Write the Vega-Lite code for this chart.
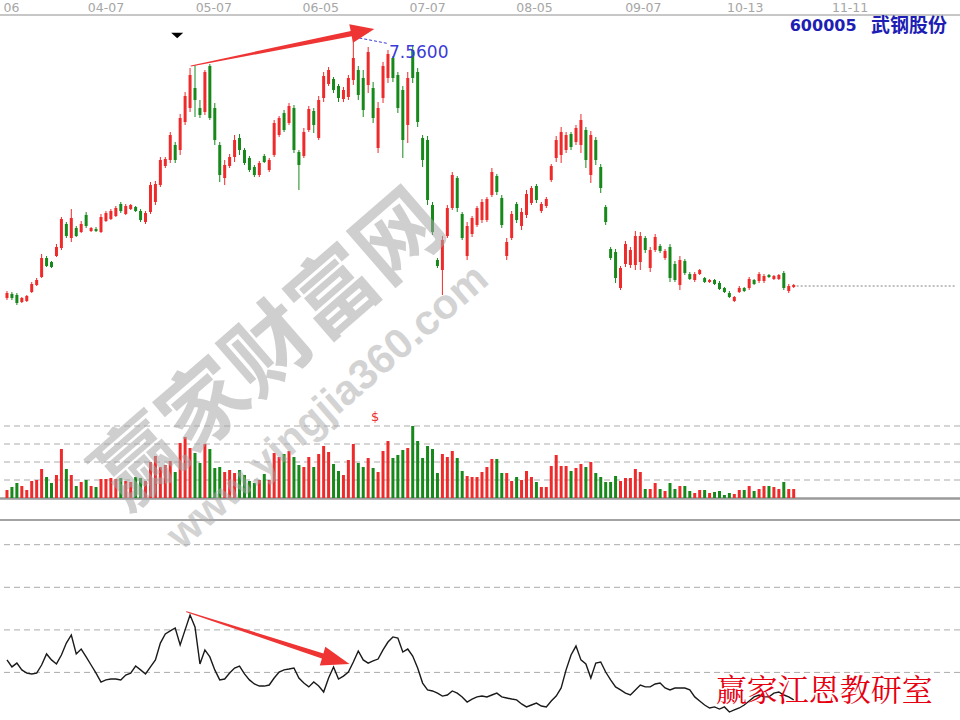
{
"$schema":"https://vega.github.io/schema/vega-lite/v6.json",
"width":960,"height":720,"autosize":{"type":"none"},"padding":0,"background":"white",
"config":{"view":{"stroke":null}},
"datasets":{
"k":[
{"i":0,"o":4.95,"h":5.02,"l":4.93,"c":5.00,"v":8,"m":25.9},
{"i":1,"o":4.99,"h":5.01,"l":4.93,"c":4.95,"v":11,"m":22.6},
{"i":2,"o":4.98,"h":5.00,"l":4.88,"c":4.90,"v":15,"m":24.4},
{"i":3,"o":4.91,"h":4.96,"l":4.90,"c":4.95,"v":12,"m":21.2},
{"i":4,"o":4.92,"h":4.98,"l":4.91,"c":4.97,"v":8,"m":19.7},
{"i":5,"o":5.01,"h":5.11,"l":5.00,"c":5.09,"v":17,"m":19.3},
{"i":6,"o":5.08,"h":5.15,"l":5.07,"c":5.13,"v":18,"m":19.7},
{"i":7,"o":5.16,"h":5.39,"l":5.15,"c":5.35,"v":29,"m":23.5},
{"i":8,"o":5.35,"h":5.37,"l":5.26,"c":5.27,"v":21,"m":28.7},
{"i":9,"o":5.31,"h":5.32,"l":5.25,"c":5.26,"v":15,"m":25.9},
{"i":10,"o":5.37,"h":5.49,"l":5.36,"c":5.46,"v":23,"m":24.0},
{"i":11,"o":5.45,"h":5.76,"l":5.43,"c":5.74,"v":49,"m":28.2},
{"i":12,"o":5.69,"h":5.71,"l":5.55,"c":5.57,"v":29,"m":33.8},
{"i":13,"o":5.55,"h":5.84,"l":5.51,"c":5.75,"v":23,"m":37.6},
{"i":14,"o":5.65,"h":5.67,"l":5.56,"c":5.57,"v":12,"m":28.7},
{"i":15,"o":5.61,"h":5.72,"l":5.60,"c":5.69,"v":16,"m":31.0},
{"i":16,"o":5.78,"h":5.81,"l":5.65,"c":5.67,"v":18,"m":27.3},
{"i":17,"o":5.62,"h":5.66,"l":5.61,"c":5.65,"v":12,"m":23.5},
{"i":18,"o":5.64,"h":5.66,"l":5.61,"c":5.62,"v":11,"m":19.7},
{"i":19,"o":5.61,"h":5.79,"l":5.60,"c":5.76,"v":19,"m":15.5},
{"i":20,"o":5.72,"h":5.82,"l":5.71,"c":5.80,"v":19,"m":16.5},
{"i":21,"o":5.74,"h":5.84,"l":5.73,"c":5.82,"v":20,"m":16.9},
{"i":22,"o":5.77,"h":5.87,"l":5.76,"c":5.85,"v":19,"m":16.9},
{"i":23,"o":5.89,"h":5.91,"l":5.80,"c":5.82,"v":20,"m":16.5},
{"i":24,"o":5.79,"h":5.89,"l":5.78,"c":5.87,"v":17,"m":18.8},
{"i":25,"o":5.84,"h":5.89,"l":5.83,"c":5.88,"v":16,"m":19.7},
{"i":26,"o":5.86,"h":5.87,"l":5.81,"c":5.82,"v":21,"m":23.0},
{"i":27,"o":5.82,"h":5.84,"l":5.71,"c":5.73,"v":20,"m":21.2},
{"i":28,"o":5.71,"h":5.82,"l":5.69,"c":5.80,"v":17,"m":19.3},
{"i":29,"o":5.81,"h":6.11,"l":5.79,"c":6.08,"v":36,"m":22.6},
{"i":30,"o":5.91,"h":6.12,"l":5.88,"c":6.09,"v":42,"m":25.9},
{"i":31,"o":6.08,"h":6.36,"l":6.06,"c":6.33,"v":31,"m":33.8},
{"i":32,"o":6.27,"h":6.36,"l":6.25,"c":6.34,"v":33,"m":38.1},
{"i":33,"o":6.33,"h":6.61,"l":6.30,"c":6.58,"v":37,"m":39.5},
{"i":34,"o":6.48,"h":6.51,"l":6.30,"c":6.33,"v":26,"m":40.9},
{"i":35,"o":6.43,"h":6.79,"l":6.38,"c":6.75,"v":55,"m":32.9},
{"i":36,"o":6.71,"h":7.01,"l":6.68,"c":6.97,"v":61,"m":40.0},
{"i":37,"o":6.85,"h":7.25,"l":6.81,"c":7.18,"v":50,"m":47.0},
{"i":38,"o":7.05,"h":7.28,"l":6.76,"c":6.93,"v":45,"m":41.4},
{"i":39,"o":6.85,"h":6.93,"l":6.75,"c":6.78,"v":35,"m":24.0},
{"i":40,"o":6.81,"h":7.23,"l":6.78,"c":7.21,"v":54,"m":30.6},
{"i":41,"o":7.27,"h":7.29,"l":6.73,"c":6.75,"v":49,"m":27.3},
{"i":42,"o":6.85,"h":6.90,"l":6.48,"c":6.53,"v":30,"m":21.2},
{"i":43,"o":6.48,"h":6.51,"l":6.11,"c":6.18,"v":31,"m":16.5},
{"i":44,"o":6.15,"h":6.33,"l":6.08,"c":6.28,"v":26,"m":16.9},
{"i":45,"o":6.27,"h":6.39,"l":6.25,"c":6.36,"v":28,"m":19.7},
{"i":46,"o":6.36,"h":6.58,"l":6.31,"c":6.53,"v":25,"m":22.1},
{"i":47,"o":6.55,"h":6.59,"l":6.38,"c":6.43,"v":28,"m":23.0},
{"i":48,"o":6.43,"h":6.45,"l":6.28,"c":6.30,"v":23,"m":19.3},
{"i":49,"o":6.35,"h":6.37,"l":6.21,"c":6.23,"v":17,"m":16.5},
{"i":50,"o":6.26,"h":6.28,"l":6.16,"c":6.18,"v":15,"m":14.6},
{"i":51,"o":6.18,"h":6.32,"l":6.16,"c":6.30,"v":18,"m":13.6},
{"i":52,"o":6.37,"h":6.39,"l":6.30,"c":6.31,"v":24,"m":13.6},
{"i":53,"o":6.23,"h":6.35,"l":6.21,"c":6.33,"v":18,"m":14.1},
{"i":54,"o":6.38,"h":6.73,"l":6.36,"c":6.70,"v":45,"m":17.4},
{"i":55,"o":6.58,"h":6.77,"l":6.56,"c":6.75,"v":41,"m":20.2},
{"i":56,"o":6.80,"h":6.83,"l":6.61,"c":6.63,"v":44,"m":21.2},
{"i":57,"o":6.70,"h":6.90,"l":6.68,"c":6.87,"v":47,"m":21.6},
{"i":58,"o":6.85,"h":6.88,"l":6.40,"c":6.43,"v":41,"m":22.1},
{"i":59,"o":6.41,"h":6.43,"l":6.03,"c":6.28,"v":33,"m":17.4},
{"i":60,"o":6.37,"h":6.65,"l":6.35,"c":6.61,"v":31,"m":15.0},
{"i":61,"o":6.63,"h":6.87,"l":6.61,"c":6.84,"v":41,"m":13.2},
{"i":62,"o":6.82,"h":6.85,"l":6.60,"c":6.68,"v":31,"m":15.5},
{"i":63,"o":6.55,"h":6.97,"l":6.53,"c":6.93,"v":44,"m":13.6},
{"i":64,"o":6.95,"h":7.21,"l":6.91,"c":7.17,"v":52,"m":10.8},
{"i":65,"o":7.09,"h":7.26,"l":7.07,"c":7.23,"v":46,"m":17.4},
{"i":66,"o":7.14,"h":7.16,"l":7.00,"c":7.03,"v":34,"m":22.6},
{"i":67,"o":7.07,"h":7.09,"l":6.91,"c":6.95,"v":27,"m":16.9},
{"i":68,"o":6.94,"h":7.06,"l":6.91,"c":7.03,"v":23,"m":18.3},
{"i":69,"o":6.96,"h":7.18,"l":6.93,"c":7.15,"v":38,"m":20.2},
{"i":70,"o":7.13,"h":7.56,"l":7.08,"c":7.35,"v":54,"m":24.9},
{"i":71,"o":7.23,"h":7.27,"l":6.93,"c":6.98,"v":35,"m":30.1},
{"i":72,"o":7.15,"h":7.23,"l":6.76,"c":6.83,"v":31,"m":25.9},
{"i":73,"o":7.08,"h":7.46,"l":7.00,"c":7.41,"v":40,"m":24.4},
{"i":74,"o":7.05,"h":7.11,"l":6.70,"c":6.75,"v":30,"m":25.4},
{"i":75,"o":6.45,"h":6.91,"l":6.40,"c":6.85,"v":26,"m":26.3},
{"i":76,"o":6.95,"h":7.31,"l":6.90,"c":7.27,"v":47,"m":30.6},
{"i":77,"o":7.15,"h":7.43,"l":7.10,"c":7.39,"v":57,"m":34.3},
{"i":78,"o":7.35,"h":7.37,"l":7.11,"c":7.15,"v":40,"m":36.7},
{"i":79,"o":7.18,"h":7.21,"l":6.80,"c":6.85,"v":43,"m":36.2},
{"i":80,"o":7.03,"h":7.07,"l":6.35,"c":6.53,"v":48,"m":29.6},
{"i":81,"o":6.68,"h":7.21,"l":6.50,"c":7.15,"v":50,"m":31.0},
{"i":82,"o":7.43,"h":7.48,"l":7.10,"c":7.15,"v":72,"m":27.7},
{"i":83,"o":7.21,"h":7.25,"l":6.66,"c":6.71,"v":57,"m":22.1},
{"i":84,"o":6.55,"h":6.58,"l":6.26,"c":6.33,"v":40,"m":15.0},
{"i":85,"o":6.53,"h":6.57,"l":5.88,"c":5.93,"v":52,"m":11.8},
{"i":86,"o":5.88,"h":5.91,"l":5.58,"c":5.61,"v":49,"m":11.3},
{"i":87,"o":5.33,"h":5.35,"l":5.25,"c":5.27,"v":25,"m":10.3},
{"i":88,"o":5.23,"h":5.57,"l":4.98,"c":5.53,"v":44,"m":8.9},
{"i":89,"o":5.57,"h":5.88,"l":5.55,"c":5.85,"v":41,"m":9.4},
{"i":90,"o":5.85,"h":6.21,"l":5.83,"c":6.18,"v":47,"m":11.3},
{"i":91,"o":6.15,"h":6.17,"l":5.81,"c":5.85,"v":40,"m":10.3},
{"i":92,"o":5.79,"h":5.81,"l":5.53,"c":5.55,"v":27,"m":8.5},
{"i":93,"o":5.37,"h":5.71,"l":5.33,"c":5.67,"v":22,"m":6.1},
{"i":94,"o":5.59,"h":5.77,"l":5.56,"c":5.75,"v":21,"m":7.5},
{"i":95,"o":5.68,"h":5.87,"l":5.66,"c":5.85,"v":21,"m":8.5},
{"i":96,"o":5.73,"h":5.94,"l":5.70,"c":5.91,"v":26,"m":8.9},
{"i":97,"o":5.73,"h":5.96,"l":5.71,"c":5.94,"v":31,"m":8.5},
{"i":98,"o":5.98,"h":6.25,"l":5.96,"c":6.21,"v":39,"m":9.4},
{"i":99,"o":6.17,"h":6.19,"l":5.98,"c":6.01,"v":39,"m":10.3},
{"i":100,"o":5.95,"h":5.98,"l":5.65,"c":5.68,"v":25,"m":8.5},
{"i":101,"o":5.37,"h":5.55,"l":5.33,"c":5.51,"v":25,"m":8.0},
{"i":102,"o":5.55,"h":5.82,"l":5.53,"c":5.79,"v":17,"m":7.5},
{"i":103,"o":5.89,"h":5.91,"l":5.70,"c":5.73,"v":21,"m":7.1},
{"i":104,"o":5.67,"h":5.85,"l":5.63,"c":5.81,"v":18,"m":5.2},
{"i":105,"o":5.78,"h":6.03,"l":5.75,"c":5.99,"v":27,"m":3.8},
{"i":106,"o":5.90,"h":6.07,"l":5.88,"c":6.05,"v":21,"m":4.7},
{"i":107,"o":6.07,"h":6.09,"l":5.90,"c":5.93,"v":16,"m":5.6},
{"i":108,"o":5.82,"h":5.91,"l":5.80,"c":5.89,"v":11,"m":4.2},
{"i":109,"o":5.87,"h":5.96,"l":5.85,"c":5.94,"v":11,"m":3.8},
{"i":110,"o":6.13,"h":6.29,"l":6.11,"c":6.27,"v":32,"m":6.6},
{"i":111,"o":6.35,"h":6.57,"l":6.31,"c":6.53,"v":43,"m":8.9},
{"i":112,"o":6.38,"h":6.66,"l":6.30,"c":6.61,"v":32,"m":12.7},
{"i":113,"o":6.43,"h":6.61,"l":6.40,"c":6.58,"v":32,"m":21.2},
{"i":114,"o":6.59,"h":6.61,"l":6.43,"c":6.46,"v":27,"m":28.2},
{"i":115,"o":6.51,"h":6.68,"l":6.48,"c":6.65,"v":30,"m":32.4},
{"i":116,"o":6.48,"h":6.79,"l":6.40,"c":6.73,"v":34,"m":25.9},
{"i":117,"o":6.63,"h":6.66,"l":6.25,"c":6.33,"v":31,"m":24.0},
{"i":118,"o":6.18,"h":6.62,"l":6.10,"c":6.58,"v":36,"m":17.4},
{"i":119,"o":6.53,"h":6.56,"l":6.28,"c":6.33,"v":25,"m":24.4},
{"i":120,"o":6.26,"h":6.29,"l":6.00,"c":6.05,"v":21,"m":24.9},
{"i":121,"o":5.86,"h":5.88,"l":5.68,"c":5.71,"v":16,"m":20.2},
{"i":122,"o":5.44,"h":5.46,"l":5.33,"c":5.35,"v":16,"m":16.5},
{"i":123,"o":5.41,"h":5.44,"l":5.10,"c":5.15,"v":22,"m":13.2},
{"i":124,"o":5.05,"h":5.27,"l":5.03,"c":5.25,"v":17,"m":11.8},
{"i":125,"o":5.29,"h":5.52,"l":5.26,"c":5.49,"v":20,"m":10.3},
{"i":126,"o":5.28,"h":5.46,"l":5.25,"c":5.43,"v":20,"m":9.4},
{"i":127,"o":5.28,"h":5.62,"l":5.23,"c":5.57,"v":29,"m":11.8},
{"i":128,"o":5.31,"h":5.61,"l":5.23,"c":5.57,"v":26,"m":14.1},
{"i":129,"o":5.55,"h":5.57,"l":5.40,"c":5.43,"v":9,"m":13.2},
{"i":130,"o":5.25,"h":5.46,"l":5.21,"c":5.43,"v":9,"m":13.2},
{"i":131,"o":5.43,"h":5.59,"l":5.41,"c":5.56,"v":15,"m":14.6},
{"i":132,"o":5.47,"h":5.49,"l":5.40,"c":5.42,"v":9,"m":15.0},
{"i":133,"o":5.35,"h":5.44,"l":5.33,"c":5.42,"v":7,"m":12.7},
{"i":134,"o":5.46,"h":5.49,"l":5.11,"c":5.15,"v":15,"m":11.8},
{"i":135,"o":5.29,"h":5.32,"l":5.11,"c":5.13,"v":9,"m":12.7},
{"i":136,"o":5.08,"h":5.37,"l":5.03,"c":5.33,"v":12,"m":12.7},
{"i":137,"o":5.32,"h":5.34,"l":5.18,"c":5.20,"v":12,"m":12.7},
{"i":138,"o":5.19,"h":5.21,"l":5.13,"c":5.14,"v":7,"m":11.8},
{"i":139,"o":5.13,"h":5.21,"l":5.11,"c":5.19,"v":5,"m":8.5},
{"i":140,"o":5.19,"h":5.24,"l":5.18,"c":5.23,"v":8,"m":6.6},
{"i":141,"o":5.15,"h":5.16,"l":5.10,"c":5.11,"v":8,"m":4.7},
{"i":142,"o":5.11,"h":5.14,"l":5.10,"c":5.13,"v":5,"m":3.3},
{"i":143,"o":5.13,"h":5.14,"l":5.08,"c":5.09,"v":6,"m":3.8},
{"i":144,"o":5.10,"h":5.12,"l":5.03,"c":5.04,"v":7,"m":2.8},
{"i":145,"o":5.05,"h":5.06,"l":5.00,"c":5.01,"v":3,"m":3.8},
{"i":146,"o":5.00,"h":5.02,"l":4.95,"c":4.96,"v":5,"m":1.4},
{"i":147,"o":4.92,"h":4.97,"l":4.91,"c":4.96,"v":4,"m":2.4},
{"i":148,"o":5.01,"h":5.07,"l":5.00,"c":5.05,"v":8,"m":3.3},
{"i":149,"o":5.05,"h":5.06,"l":5.01,"c":5.02,"v":8,"m":4.7},
{"i":150,"o":5.05,"h":5.16,"l":5.03,"c":5.14,"v":12,"m":6.6},
{"i":151,"o":5.13,"h":5.14,"l":5.08,"c":5.09,"v":7,"m":8.5},
{"i":152,"o":5.12,"h":5.21,"l":5.10,"c":5.19,"v":9,"m":9.4},
{"i":153,"o":5.12,"h":5.19,"l":5.10,"c":5.17,"v":12,"m":8.5},
{"i":154,"o":5.18,"h":5.19,"l":5.15,"c":5.16,"v":12,"m":8.5},
{"i":155,"o":5.14,"h":5.18,"l":5.13,"c":5.17,"v":11,"m":10.3},
{"i":156,"o":5.14,"h":5.19,"l":5.13,"c":5.18,"v":9,"m":10.8},
{"i":157,"o":5.20,"h":5.22,"l":5.03,"c":5.05,"v":16,"m":9.4},
{"i":158,"o":5.02,"h":5.09,"l":5.00,"c":5.07,"v":9,"m":8.5},
{"i":159,"o":5.06,"h":5.09,"l":5.05,"c":5.08,"v":9,"m":7.1}
],
"ann":[
{"k":"d","i":0.9,"p":7.85,"t":"06"},
{"k":"d","i":20,"p":7.85,"t":"04-07"},
{"k":"d","i":41.8,"p":7.85,"t":"05-07"},
{"k":"d","i":63.4,"p":7.85,"t":"06-05"},
{"k":"d","i":85,"p":7.85,"t":"07-07"},
{"k":"d","i":106.6,"p":7.85,"t":"08-05"},
{"k":"d","i":128.6,"p":7.85,"t":"09-07"},
{"k":"d","i":149.2,"p":7.85,"t":"10-13"},
{"k":"d","i":170.4,"p":7.85,"t":"11-11"},
{"k":"top","p":7.78},
{"k":"hd","p":3.67},{"k":"hd","p":3.49},{"k":"hd","p":3.31},{"k":"hd","p":3.13},
{"k":"hb","p":2.945},
{"k":"hsep","p":2.73},
{"k":"hd","p":2.483},{"k":"hd","p":2.057},{"k":"hd","p":1.631},{"k":"hd","p":1.206},
{"k":"last","i":159.6,"i2":191.6,"p":5.07},
{"k":"code","i":158.2,"p":7.67,"t":"600005"},
{"k":"name","i":174.6,"p":7.67,"t":"武钢股份"},
{"k":"val","i":77.2,"p":7.40,"t":"7.5600"},
{"k":"dollar","i":74.4,"p":3.76,"t":"$"},
{"k":"tri","i":34.4,"p":7.575},
{"k":"conn","s":0,"i":71.2,"p":7.55},{"k":"conn","s":1,"i":77.0,"p":7.495},
{"k":"ar","g":"a","s":0,"i":37.2,"p":7.27},{"k":"ar","g":"a","s":1,"i":69.6,"p":7.594},
{"k":"ar","g":"b","s":0,"i":36.3,"p":1.813},{"k":"ar","g":"b","s":1,"i":63.8,"p":1.37},
{"k":"ah","g":"a","i":71.9,"p":7.617},
{"k":"ah","g":"b","i":66.5,"p":1.33},
{"k":"wm1","i":53.4,"p":4.41,"t":"赢家财富网"},
{"k":"wm2","i":64.8,"p":3.86,"t":"www.yingjia360.com"},
{"k":"red","i":165.2,"p":1.01,"t":"赢家江恩教研室"}
]
},
"resolve":{"scale":{"y":"independent","size":"independent"}},
"layer":[
{"data":{"name":"ann"},"transform":[{"filter":"datum.k==='hd'"}],
 "mark":{"type":"rule","stroke":"#ababab","strokeWidth":1,"strokeDash":[6,4]},
 "encoding":{"y":{"field":"p","type":"quantitative","scale":{"domain":[0.73,7.93],"nice":false,"zero":false},"axis":null}}},
{"data":{"name":"ann"},"transform":[{"filter":"datum.k==='top'"}],
 "mark":{"type":"rule","stroke":"#b5b5b5","strokeWidth":1.5},
 "encoding":{"y":{"field":"p","type":"quantitative","scale":{"domain":[0.73,7.93],"nice":false,"zero":false},"axis":null}}},
{"data":{"name":"ann"},"transform":[{"filter":"datum.k==='hb'"}],
 "mark":{"type":"rule","stroke":"#9a9a9a","strokeWidth":2.5},
 "encoding":{"y":{"field":"p","type":"quantitative","scale":{"domain":[0.73,7.93],"nice":false,"zero":false},"axis":null}}},
{"data":{"name":"ann"},"transform":[{"filter":"datum.k==='hsep'"}],
 "mark":{"type":"rule","stroke":"#a3a3a3","strokeWidth":2},
 "encoding":{"y":{"field":"p","type":"quantitative","scale":{"domain":[0.73,7.93],"nice":false,"zero":false},"axis":null}}},
{"data":{"name":"ann"},"transform":[{"filter":"datum.k==='last'"}],
 "mark":{"type":"rule","stroke":"#808080","strokeWidth":1,"strokeDash":[2,2]},
 "encoding":{"x":{"field":"i","type":"quantitative","scale":{"domain":[-0.4,191.6],"nice":false,"zero":false},"axis":null},
  "x2":{"field":"i2"},
  "y":{"field":"p","type":"quantitative","scale":{"domain":[0.73,7.93],"nice":false,"zero":false},"axis":null}}},
{"data":{"name":"k"},
 "mark":{"type":"rule","strokeWidth":1},
 "encoding":{"x":{"field":"i","type":"quantitative","scale":{"domain":[-0.4,191.6],"nice":false,"zero":false},"axis":null},
  "y":{"field":"l","type":"quantitative","scale":{"domain":[0.73,7.93],"nice":false,"zero":false},"axis":null},
  "y2":{"field":"h"},
  "color":{"condition":{"test":"datum.c>=datum.o","value":"#ee2a2a"},"value":"#17891b"}}},
{"data":{"name":"k"},
 "mark":{"type":"bar","size":3},
 "encoding":{"x":{"field":"i","type":"quantitative","scale":{"domain":[-0.4,191.6],"nice":false,"zero":false},"axis":null},
  "y":{"field":"o","type":"quantitative","scale":{"domain":[0.73,7.93],"nice":false,"zero":false},"axis":null},
  "y2":{"field":"c"},
  "color":{"condition":{"test":"datum.c>=datum.o","value":"#ee2a2a"},"value":"#17891b"}}},
{"data":{"name":"k"},
 "mark":{"type":"bar","size":3},
 "encoding":{"x":{"field":"i","type":"quantitative","scale":{"domain":[-0.4,191.6],"nice":false,"zero":false},"axis":null},
  "y":{"field":"v","type":"quantitative","scale":{"domain":[-222,498],"nice":false,"zero":false},"axis":null},
  "y2":{"datum":0},
  "color":{"condition":{"test":"datum.c>=datum.o","value":"#ee2a2a"},"value":"#17891b"}}},
{"data":{"name":"k"},
 "mark":{"type":"line","color":"#1a1a1a","strokeWidth":1.4},
 "encoding":{"x":{"field":"i","type":"quantitative","scale":{"domain":[-0.4,191.6],"nice":false,"zero":false},"axis":null},
  "y":{"field":"m","type":"quantitative","scale":{"domain":[-2.35,336.05],"nice":false,"zero":false},"axis":null}}},
{"data":{"name":"ann"},"transform":[{"filter":"datum.k==='wm1'"}],
 "mark":{"type":"text","font":"Noto Sans CJK SC","fontWeight":"bold","fontSize":86,"angle":319,"align":"center","baseline":"middle","color":"#a9a9a9","opacity":0.55},
 "encoding":{"x":{"field":"i","type":"quantitative","scale":{"domain":[-0.4,191.6],"nice":false,"zero":false},"axis":null},
  "y":{"field":"p","type":"quantitative","scale":{"domain":[0.73,7.93],"nice":false,"zero":false},"axis":null},
  "text":{"field":"t"}}},
{"data":{"name":"ann"},"transform":[{"filter":"datum.k==='wm2'"}],
 "mark":{"type":"text","font":"Liberation Sans","fontWeight":"bold","fontSize":42,"angle":319,"align":"center","baseline":"middle","color":"#a9a9a9","opacity":0.5},
 "encoding":{"x":{"field":"i","type":"quantitative","scale":{"domain":[-0.4,191.6],"nice":false,"zero":false},"axis":null},
  "y":{"field":"p","type":"quantitative","scale":{"domain":[0.73,7.93],"nice":false,"zero":false},"axis":null},
  "text":{"field":"t"}}},
{"data":{"name":"ann"},"transform":[{"filter":"datum.k==='d'"}],
 "mark":{"type":"text","font":"DejaVu Sans","fontSize":12.5,"align":"center","baseline":"middle","color":"#a6a6a6"},
 "encoding":{"x":{"field":"i","type":"quantitative","scale":{"domain":[-0.4,191.6],"nice":false,"zero":false},"axis":null},
  "y":{"field":"p","type":"quantitative","scale":{"domain":[0.73,7.93],"nice":false,"zero":false},"axis":null},
  "text":{"field":"t"}}},
{"data":{"name":"ann"},"transform":[{"filter":"datum.k==='code'"}],
 "mark":{"type":"text","font":"DejaVu Sans","fontWeight":"bold","fontSize":16,"align":"left","baseline":"middle","color":"#1e1eb4"},
 "encoding":{"x":{"field":"i","type":"quantitative","scale":{"domain":[-0.4,191.6],"nice":false,"zero":false},"axis":null},
  "y":{"field":"p","type":"quantitative","scale":{"domain":[0.73,7.93],"nice":false,"zero":false},"axis":null},
  "text":{"field":"t"}}},
{"data":{"name":"ann"},"transform":[{"filter":"datum.k==='name'"}],
 "mark":{"type":"text","font":"Noto Sans CJK SC","fontWeight":"bold","fontSize":19,"align":"left","baseline":"middle","color":"#1e1eb4"},
 "encoding":{"x":{"field":"i","type":"quantitative","scale":{"domain":[-0.4,191.6],"nice":false,"zero":false},"axis":null},
  "y":{"field":"p","type":"quantitative","scale":{"domain":[0.73,7.93],"nice":false,"zero":false},"axis":null},
  "text":{"field":"t"}}},
{"data":{"name":"ann"},"transform":[{"filter":"datum.k==='conn'"}],
 "mark":{"type":"line","color":"#3b3bd6","strokeWidth":1,"strokeDash":[3,2]},
 "encoding":{"x":{"field":"i","type":"quantitative","scale":{"domain":[-0.4,191.6],"nice":false,"zero":false},"axis":null},
  "y":{"field":"p","type":"quantitative","scale":{"domain":[0.73,7.93],"nice":false,"zero":false},"axis":null},
  "order":{"field":"s"}}},
{"data":{"name":"ann"},"transform":[{"filter":"datum.k==='val'"}],
 "mark":{"type":"text","font":"DejaVu Sans","fontSize":17,"align":"left","baseline":"middle","color":"#3b3bd6"},
 "encoding":{"x":{"field":"i","type":"quantitative","scale":{"domain":[-0.4,191.6],"nice":false,"zero":false},"axis":null},
  "y":{"field":"p","type":"quantitative","scale":{"domain":[0.73,7.93],"nice":false,"zero":false},"axis":null},
  "text":{"field":"t"}}},
{"data":{"name":"ann"},"transform":[{"filter":"datum.k==='dollar'"}],
 "mark":{"type":"text","font":"DejaVu Sans","fontSize":13,"align":"center","baseline":"middle","color":"#ee2a2a"},
 "encoding":{"x":{"field":"i","type":"quantitative","scale":{"domain":[-0.4,191.6],"nice":false,"zero":false},"axis":null},
  "y":{"field":"p","type":"quantitative","scale":{"domain":[0.73,7.93],"nice":false,"zero":false},"axis":null},
  "text":{"field":"t"}}},
{"data":{"name":"ann"},"transform":[{"filter":"datum.k==='tri'"}],
 "mark":{"type":"point","shape":"M-1,-0.45L1,-0.45L0,0.45Z","size":144,"filled":true,"color":"#000000","opacity":1,"strokeWidth":0},
 "encoding":{"x":{"field":"i","type":"quantitative","scale":{"domain":[-0.4,191.6],"nice":false,"zero":false},"axis":null},
  "y":{"field":"p","type":"quantitative","scale":{"domain":[0.73,7.93],"nice":false,"zero":false},"axis":null}}},
{"data":{"name":"ann"},"transform":[{"filter":"datum.k==='ar'"}],
 "mark":{"type":"trail","color":"#ef3434"},
 "encoding":{"x":{"field":"i","type":"quantitative","scale":{"domain":[-0.4,191.6],"nice":false,"zero":false},"axis":null},
  "y":{"field":"p","type":"quantitative","scale":{"domain":[0.73,7.93],"nice":false,"zero":false},"axis":null},
  "detail":{"field":"g"},
  "order":{"field":"s"},
  "size":{"field":"s","type":"quantitative","scale":{"domain":[0,1],"range":[1,5.5]},"legend":null}}},
{"data":{"name":"ann"},"transform":[{"filter":"datum.k==='ah' && datum.g==='a'"}],
 "mark":{"type":"point","shape":"M1,0L-1,-0.8L-1,0.8Z","size":557,"angle":348.7,"filled":true,"color":"#ef3434","opacity":1,"strokeWidth":0},
 "encoding":{"x":{"field":"i","type":"quantitative","scale":{"domain":[-0.4,191.6],"nice":false,"zero":false},"axis":null},
  "y":{"field":"p","type":"quantitative","scale":{"domain":[0.73,7.93],"nice":false,"zero":false},"axis":null}}},
{"data":{"name":"ann"},"transform":[{"filter":"datum.k==='ah' && datum.g==='b'"}],
 "mark":{"type":"point","shape":"M1,0L-1,-0.7L-1,0.7Z","size":784,"angle":16.3,"filled":true,"color":"#ef3434","opacity":1,"strokeWidth":0},
 "encoding":{"x":{"field":"i","type":"quantitative","scale":{"domain":[-0.4,191.6],"nice":false,"zero":false},"axis":null},
  "y":{"field":"p","type":"quantitative","scale":{"domain":[0.73,7.93],"nice":false,"zero":false},"axis":null}}},
{"data":{"name":"ann"},"transform":[{"filter":"datum.k==='red'"}],
 "mark":{"type":"text","font":"Noto Serif CJK SC, Noto Sans CJK SC","fontSize":31,"align":"center","baseline":"middle","color":"#e60012"},
 "encoding":{"x":{"field":"i","type":"quantitative","scale":{"domain":[-0.4,191.6],"nice":false,"zero":false},"axis":null},
  "y":{"field":"p","type":"quantitative","scale":{"domain":[0.73,7.93],"nice":false,"zero":false},"axis":null},
  "text":{"field":"t"}}}
]
}
